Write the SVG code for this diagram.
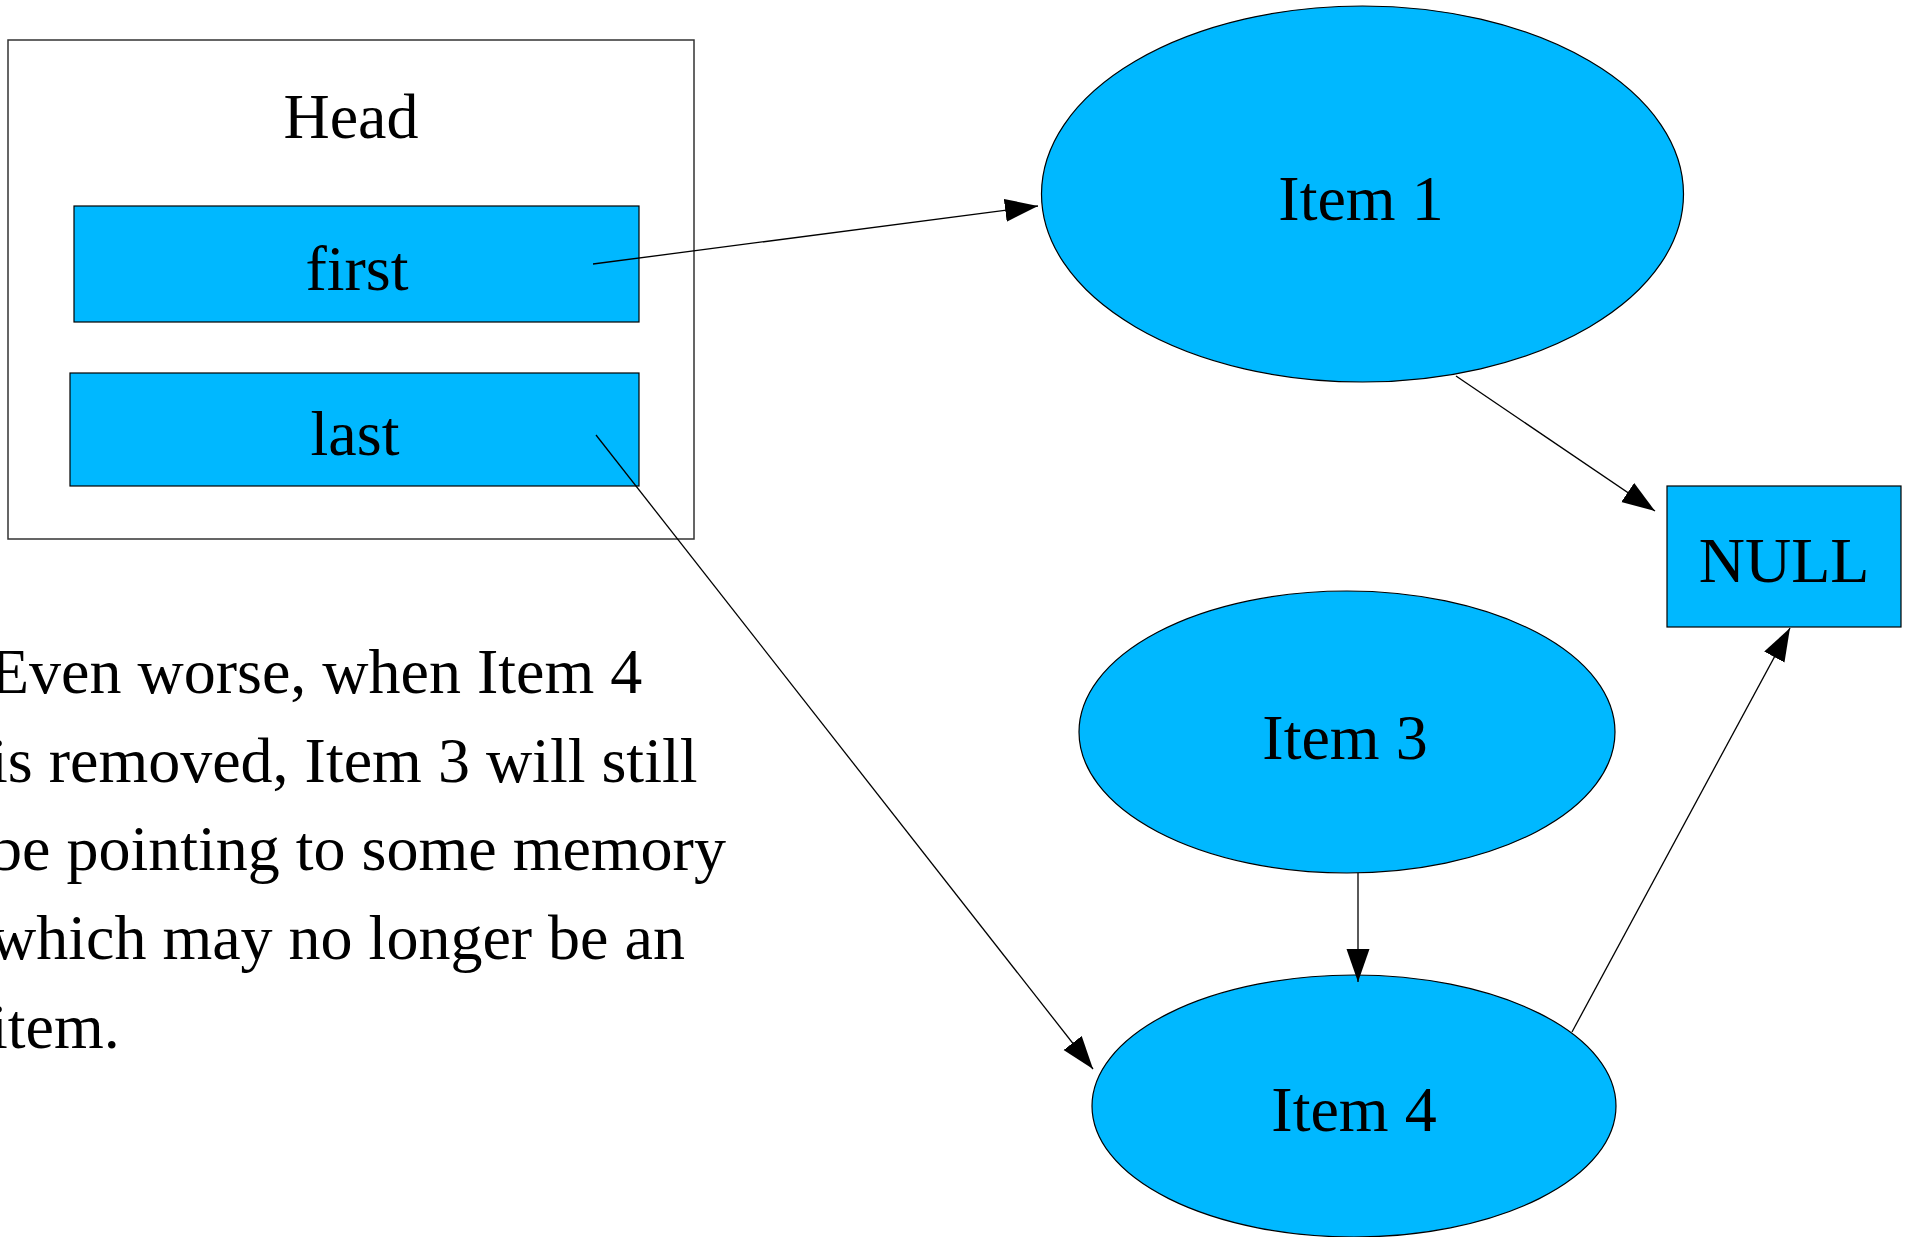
<svg xmlns="http://www.w3.org/2000/svg" width="1916" height="1237" viewBox="0 0 1916 1237">
<style>
  .t { font-family: "Liberation Serif", "Times New Roman", serif; font-size: 64px; fill: #000; }
  .c { text-anchor: middle; }
  .fill { fill: #00b8ff; stroke: #000; stroke-width: 1.2; }
  .edge { stroke: #000; stroke-width: 1.3; fill: none; marker-end: url(#arrow); }
</style>
<defs>
  <marker id="arrow" markerUnits="userSpaceOnUse" markerWidth="34" markerHeight="24" refX="33" refY="11.5" orient="auto">
    <path d="M0,0 L33,11.5 L0,23 z" fill="#000"/>
  </marker>
</defs>
<rect width="1916" height="1237" fill="#fff"/>

<g id="head">
  <rect x="8" y="40" width="686" height="499" fill="#fff" stroke="#333" stroke-width="1.5"/>
  <text class="t c" x="351" y="138">Head</text>
</g>
<g id="first">
  <rect class="fill" x="74" y="206" width="565" height="116"/>
  <text class="t c" x="357" y="290">first</text>
</g>
<g id="last">
  <rect class="fill" x="70" y="373" width="569" height="113"/>
  <text class="t c" x="355" y="455">last</text>
</g>
<g id="item1">
  <ellipse class="fill" cx="1362.5" cy="194" rx="321" ry="188"/>
  <text class="t c" x="1361" y="220">Item 1</text>
</g>
<g id="null">
  <rect class="fill" x="1667" y="486" width="234" height="141"/>
  <text class="t c" x="1784" y="582">NULL</text>
</g>
<g id="item3">
  <ellipse class="fill" cx="1347" cy="732" rx="268" ry="141"/>
  <text class="t c" x="1345" y="759">Item 3</text>
</g>
<g id="item4">
  <ellipse class="fill" cx="1354" cy="1106" rx="262" ry="131"/>
  <text class="t c" x="1354" y="1131">Item 4</text>
</g>

<g id="note">
  <text class="t" x="-10" y="693">Even worse, when Item 4</text>
  <text class="t" x="-10" y="782">is removed, Item 3 will still</text>
  <text class="t" x="-10" y="870">be pointing to some memory</text>
  <text class="t" x="-10" y="959">which may no longer be an</text>
  <text class="t" x="-10" y="1048">item.</text>
</g>

<g id="connectors">
  <line class="edge" x1="593" y1="264" x2="1038" y2="206"/>
  <line class="edge" x1="1456" y1="376" x2="1655" y2="511"/>
  <line class="edge" x1="596" y1="435" x2="1093" y2="1069"/>
  <line class="edge" x1="1358" y1="873" x2="1358" y2="982"/>
  <line class="edge" x1="1572" y1="1032" x2="1790" y2="628"/>
</g>
</svg>
